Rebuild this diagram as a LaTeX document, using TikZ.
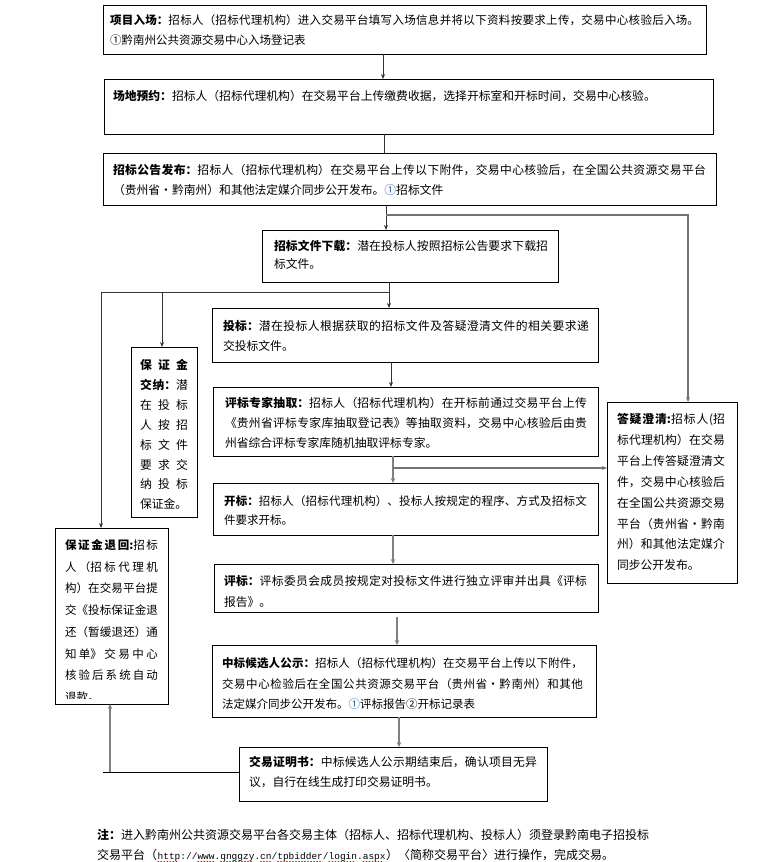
\documentclass[tikz,border=0pt]{standalone}
\usepackage{fontspec}
\setmainfont{Noto Sans CJK SC}
\newfontfamily\urlfont{Liberation Mono}
\usetikzlibrary{arrows.meta,calc,decorations.pathmorphing}
\XeTeXlinebreaklocale "zh"
\XeTeXlinebreakskip=0pt plus 3pt
\tolerance=10000
\hbadness=10000
\definecolor{circblue}{RGB}{40,90,190}
\newcommand{\setfs}[2]{\fontsize{#1}{#2}\selectfont}
\begin{document}
\begin{tikzpicture}[x=1pt,y=-1pt,
 box/.style={draw=black,line width=1pt,inner sep=0pt,outer sep=0pt,anchor=north west},
 txt/.style={anchor=base west,inner sep=0pt,outer sep=0pt,align=justify,text width=#1pt},
 conn/.style={draw=black!80,line width=0.9pt,-{Stealth[length=5pt,width=4pt]}},
 line0/.style={draw=black!80,line width=0.9pt},
 conng/.style={draw=black!55,line width=1.4pt,-{Stealth[length=5pt,width=4pt]}},
 connt/.style={draw=black!50,line width=2.2pt,-{Stealth[length=5pt,width=4.5pt]}},
 squig/.style={draw=red!85!black,line width=0.5pt,decorate,decoration={snake,segment length=3pt,amplitude=0.7pt}}]
\fill[white] (0,0) rectangle (764,862);
\useasboundingbox (0,0) rectangle (764,862);

% boxes
\node[box,minimum width=603pt,minimum height=49pt] (b1) at (103,5) {};
\node[box,minimum width=609pt,minimum height=55pt] (b2) at (104,79) {};
\node[box,minimum width=613pt,minimum height=52pt] (b3) at (103,153) {};
\node[box,minimum width=296pt,minimum height=52pt] (b4) at (262,230) {};
\node[box,minimum width=386pt,minimum height=54pt] (b5) at (212,308) {};
\node[box,minimum width=385pt,minimum height=69pt] (b6) at (213,387) {};
\node[box,minimum width=385pt,minimum height=52pt] (b7) at (213,483) {};
\node[box,minimum width=384pt,minimum height=48pt] (b8) at (214,564) {};
\node[box,minimum width=384pt,minimum height=72pt] (b9) at (212,645) {};
\node[box,minimum width=308pt,minimum height=54pt] (b10) at (239,747) {};
\node[box,minimum width=66pt,minimum height=170pt] (b11) at (131,347) {};
\node[box,minimum width=130pt,minimum height=181pt] (b12) at (607,402) {};
\node[box,minimum width=113pt,minimum height=176pt] (b13) at (55,528) {};

% texts
\node[txt=589,font=\setfs{11.5}{20}] (t1) at (110,24.5) {\textbf{项目入场：}招标人（招标代理机构）进入交易平台填写入场信息并将以下资料按要求上传，交易中心核验后入场。\linebreak ①黔南州公共资源交易中心入场登记表};
\node[txt=590,font=\setfs{11.8}{20}] (t2) at (113,100.5) {\textbf{场地预约：}招标人（招标代理机构）在交易平台上传缴费收据，选择开标室和开标时间，交易中心核验。};
\node[txt=593,font=\setfs{11.8}{20}] (t3) at (113,174.5) {\textbf{招标公告发布：}招标人（招标代理机构）在交易平台上传以下附件，交易中心核验后，在全国公共资源交易平台\linebreak （贵州省・黔南州）和其他法定媒介同步公开发布。\textcolor{circblue}{①}招标文件};
\node[txt=274,font=\setfs{11.8}{17.5}] (t4) at (274,250.5) {\textbf{招标文件下载：}潜在投标人按照招标公告要求下载招\linebreak 标文件。};
\node[txt=366,font=\setfs{11.8}{19.5}] (t5) at (223,330.5) {\textbf{投标：}潜在投标人根据获取的招标文件及答疑澄清文件的相关要求递\linebreak 交投标文件。};
\node[txt=362,font=\setfs{11.8}{20}] (t6) at (225,407.5) {\textbf{评标专家抽取：}招标人（招标代理机构）在开标前通过交易平台上传\linebreak 《贵州省评标专家库抽取登记表》等抽取资料，交易中心核验后由贵\linebreak 州省综合评标专家库随机抽取评标专家。};
\node[txt=363,font=\setfs{11.5}{19}] (t7) at (224,505.5) {\textbf{开标：}招标人（招标代理机构）、投标人按规定的程序、方式及招标文\linebreak 件要求开标。};
\node[txt=363,font=\setfs{11.8}{21}] (t8) at (224,585.5) {\textbf{评标：}评标委员会成员按规定对投标文件进行独立评审并出具《评标\linebreak 报告》。};
\node[txt=361,font=\setfs{11.5}{20.5}] (t9) at (222,667.5) {\textbf{中标候选人公示：}招标人（招标代理机构）在交易平台上传以下附件，\linebreak 交易中心检验后在全国公共资源交易平台（贵州省・黔南州）和其他\linebreak 法定媒介同步公开发布。\textcolor{circblue}{①}评标报告②开标记录表};
\node[txt=288,font=\setfs{11.8}{20}] (t10) at (249,766.5) {\textbf{交易证明书：}中标候选人公示期结束后，确认项目无异\linebreak 议，自行在线生成打印交易证明书。};
\node[txt=48,font=\setfs{11.8}{19.9}] (t11) at (140,369.5) {\textbf{保证金}\linebreak\textbf{交纳：}潜\linebreak 在投标\linebreak 人按招\linebreak 标文件\linebreak 要求交\linebreak 纳投标\linebreak 保证金。};
\node[txt=108,font=\setfs{11.8}{20.9}] (t12) at (617,423.5) {\textbf{答疑澄清:}招标人(招\linebreak 标代理机构）在交易\linebreak 平台上传答疑澄清文\linebreak 件，交易中心核验后\linebreak 在全国公共资源交易\linebreak 平台（贵州省・黔南\linebreak 州）和其他法定媒介\linebreak 同步公开发布。};
\begin{scope}
\clip ($(b13.north west)+(0.5,0.5)$) rectangle ($(b13.south east)+(-0.5,-5.5)$);
\node[txt=93,font=\setfs{11.5}{21.7}] (t13) at (65,549.5) {\textbf{保证金退回:}招标\linebreak 人（招标代理机\linebreak 构）在交易平台提\linebreak 交《投标保证金退\linebreak 还（暂缓退还）通\linebreak 知单》交易中心\linebreak 核验后系统自动\linebreak 退款。};
\end{scope}

% connectors
\coordinate (xA) at (383,0);
\coordinate (xB) at (384,0);
\coordinate (xC) at (386,0);
\coordinate (xD) at (389,0);
\coordinate (xE) at (391,0);
\coordinate (xF) at (393,0);
\coordinate (xG) at (397,0);
\coordinate (xH) at (399,0);
\coordinate (xR) at (688,0);
\coordinate (xL) at (101,0);
\coordinate (j1) at (386,215);
\coordinate (j2) at (389,292);
\coordinate (j3) at (162,292);
\coordinate (j4) at (393,468);
\coordinate (j5) at (110,772);
\coordinate (j6) at (103,772);

\draw[conn] (b1.south -| xA) -- (b2.north -| xA);
\draw[line0] (b2.south -| xB) -- (b3.north -| xB);
\draw[conn] (b3.south -| xC) -- (b4.north -| xC);
\draw[conng] (j1) -| (b12.north -| xR);
\draw[conn] (b4.south -| xD) -- (b5.north -| xD);
\draw[conn] (j2) -| (b13.north -| xL);
\draw[conn] (j3) -- (b11.north -| j3);
\draw[conn] (b5.south -| xE) -- (b6.north -| xE);
\draw[connt] (b6.south -| xF) -- (b7.north -| xF);
\draw[conng] (j4) -- (b12.west |- j4);
\draw[connt] (b7.south -| xF) -- (b8.north -| xF);
\draw[connt,shorten <=5pt] (b8.south -| xG) -- (b9.north -| xG);
\draw[connt] (b9.south -| xH) -- (b10.north -| xH);
\draw[line0,draw=black] (b10.west |- j5) -- (j6);
\draw[connt] (j5) -- (b13.south -| j5);

% note
\node[anchor=base west,inner sep=0pt,font=\setfs{12}{20}] (n1) at (97,839.5) {\textbf{注：}进入黔南州公共资源交易平台各交易主体（招标人、招标代理机构、投标人）须登录黔南电子招投标};
\node[anchor=base west,inner sep=0pt,font=\setfs{12}{20}] (n2) at (97,859.5) {交易平台（};
\node[anchor=base west,inner sep=0pt,font=\urlfont\setfs{9.5}{12}] (url) at (n2.base east) {http://www.qnggzy.cn/tpbidder/login.aspx};
\node[anchor=base west,inner sep=0pt,font=\setfs{12}{20}] (n3) at (url.base east) {）〈简称交易平台〉进行操作，完成交易。};
\foreach \a/\b in {0/4,7/10,11/17,18/20,21/29,30/35,36/40}
  \draw[squig] ($(url.base west)+(\a*5.7,2.5)$) -- ($(url.base west)+(\b*5.7,2.5)$);
\end{tikzpicture}
\end{document}
